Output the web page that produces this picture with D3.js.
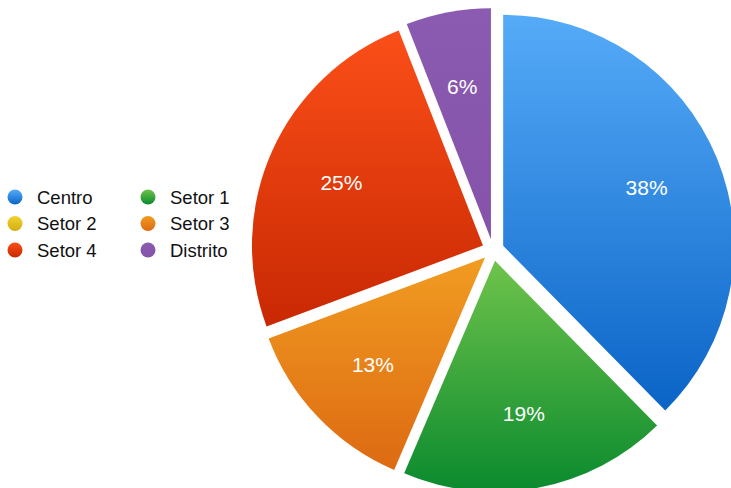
<!DOCTYPE html>
<html>
<head>
<meta charset="utf-8">
<script src="https://cdn.jsdelivr.net/npm/d3@7"></script>
<style>
  html, body { margin: 0; padding: 0; background: #fff; }
  svg { display: block; }
  text { font-family: "Liberation Sans", Arial, Helvetica, sans-serif; }
</style>
</head>
<body>
<svg id="chart" width="731" height="488"></svg>
<script>
// Regions and their shares
const categories = ["Centro", "Setor 1", "Setor 2", "Setor 3", "Setor 4", "Distrito"];
const values = [38, 19, 0, 13, 25, 6];
// Top / bottom colours of each slice gradient
const colorsTop = ["#56abf8", "#6fc34b", "#f0d232", "#f19c22", "#fb4f18", "#8a5bb0"];
const colorsBottom = ["#0a64c6", "#0a8a2e", "#d4ae10", "#dd6a12", "#c82803", "#8553aa"];
// Legend layout: two columns
const legendCols = [["Centro", "Setor 2", "Setor 4"], ["Setor 1", "Setor 3", "Distrito"]];

const W = 731, H = 488;
const cx = 493, cy = 250, R = 231, explode = 11, labelR = 155;

const svg = d3.select("#chart");
const defs = svg.append("defs");

categories.forEach((c, i) => {
  const g = defs.append("linearGradient")
    .attr("id", "grad" + i)
    .attr("x1", 0).attr("y1", 0).attr("x2", 0).attr("y2", 1);
  g.append("stop").attr("offset", "0%").attr("stop-color", colorsTop[i]);
  g.append("stop").attr("offset", "100%").attr("stop-color", colorsBottom[i]);
});

const data = categories.map((c, i) => ({ name: c, value: values[i], idx: i }));
const total = d3.sum(values);

const pie = d3.pie().value(d => d.value).sort(null).startAngle(0).endAngle(2 * Math.PI);
const arc = d3.arc().innerRadius(0).outerRadius(R);

const arcs = pie(data).filter(d => d.data.value > 0);

const pieG = svg.append("g").attr("transform", `translate(${cx},${cy})`);

const slice = pieG.selectAll("g.slice")
  .data(arcs)
  .join("g")
  .attr("class", "slice")
  .attr("transform", d => {
    const a = (d.startAngle + d.endAngle) / 2;
    return `translate(${Math.sin(a) * explode},${-Math.cos(a) * explode})`;
  });

slice.append("path")
  .attr("d", arc)
  .attr("fill", d => `url(#grad${d.data.idx})`);

slice.append("text")
  .attr("transform", d => {
    const a = (d.startAngle + d.endAngle) / 2;
    return `translate(${Math.sin(a) * labelR},${-Math.cos(a) * labelR})`;
  })
  .attr("text-anchor", "middle")
  .attr("dy", "0.36em")
  .attr("fill", "#fff")
  .attr("font-size", 21)
  .text(d => Math.round(d.data.value / total * 100) + "%");

// Legend
const legend = svg.append("g");
const colX = [15, 148];
const rowY = [197, 223.5, 250];
legendCols.forEach((col, ci) => {
  col.forEach((name, ri) => {
    const i = categories.indexOf(name);
    const item = legend.append("g").attr("transform", `translate(${colX[ci]},${rowY[ri]})`);
    item.append("circle").attr("r", 7.5).attr("fill", `url(#grad${i})`);
    item.append("text")
      .attr("x", 22)
      .attr("dy", "0.36em")
      .attr("font-size", 18.5)
      .attr("fill", "#111")
      .text(name);
  });
});
</script>
</body>
</html>
